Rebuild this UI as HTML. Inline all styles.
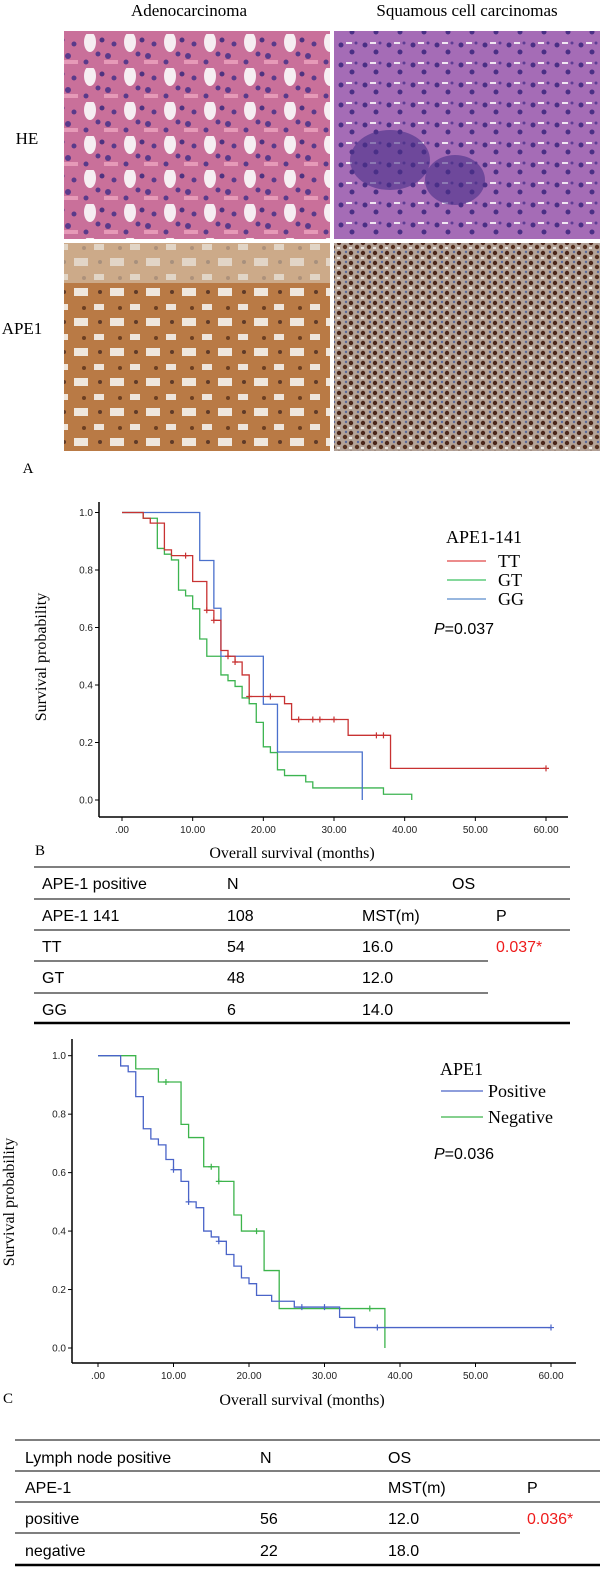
<!DOCTYPE html>
<html><head><meta charset="utf-8">
<style>
html,body{margin:0;padding:0;background:#fff;}
body{width:600px;height:1585px;position:relative;overflow:hidden;}
svg{position:absolute;left:0;top:0;}
.serif{font-family:"Liberation Serif",serif;}
.sans{font-family:"Liberation Sans",sans-serif;}
</style></head>
<body>
<svg id="fig" width="600" height="1585" viewBox="0 0 600 1585" xmlns="http://www.w3.org/2000/svg">
<defs>
<pattern id="pHE1" width="40" height="34" patternUnits="userSpaceOnUse">
<rect width="40" height="34" fill="#c9709a"/>
<ellipse cx="10" cy="8" rx="6" ry="10" fill="#f6eef2"/>
<circle cx="28" cy="22" r="3" fill="#5a3a8a"/><circle cx="22" cy="6" r="2.5" fill="#4e3280"/>
<circle cx="34" cy="10" r="2.5" fill="#5a3a8a"/><circle cx="6" cy="28" r="2.5" fill="#5a3a8a"/>
<circle cx="18" cy="20" r="2.5" fill="#5a3a8a"/>
<rect x="24" y="26" width="14" height="4" fill="#e69ab8"/>
</pattern>
<pattern id="pHE2" width="24" height="20" patternUnits="userSpaceOnUse">
<rect width="24" height="20" fill="#a56cb6"/>
<circle cx="5" cy="5" r="2.5" fill="#4a2f85"/><circle cx="16" cy="12" r="2.5" fill="#4a2f85"/>
<rect x="10" y="2" width="6" height="2" fill="#f0e6f2"/><circle cx="20" cy="3" r="1.5" fill="#5d3c94"/>
</pattern>
<pattern id="pAPE1" width="36" height="30" patternUnits="userSpaceOnUse">
<rect width="36" height="30" fill="#b97a45"/>
<rect x="2" y="18" width="14" height="8" fill="#efe7de"/><rect x="22" y="4" width="10" height="6" fill="#eee5dc"/>
<circle cx="12" cy="8" r="2" fill="#6b3e20"/><circle cx="28" cy="22" r="2" fill="#5e3a28"/>
</pattern>
<pattern id="pAPE2" width="12" height="10" patternUnits="userSpaceOnUse">
<rect width="12" height="10" fill="#b4a296"/>
<circle cx="3" cy="3" r="2.2" fill="#4a261a"/><circle cx="9" cy="7" r="2.2" fill="#55301f"/>
<circle cx="10" cy="2" r="1.2" fill="#5a6898"/><rect x="1" y="7" width="3" height="2" fill="#e8e4e0"/>
</pattern>
</defs>

<!-- Panel A -->
<text class="serif" x="189" y="16" font-size="17" text-anchor="middle">Adenocarcinoma</text>
<text class="serif" x="467" y="16" font-size="17" text-anchor="middle">Squamous cell carcinomas</text>
<rect x="64" y="31" width="266" height="208" fill="url(#pHE1)"/>
<rect x="334" y="31" width="266" height="208" fill="url(#pHE2)"/>
<ellipse cx="390" cy="160" rx="40" ry="30" fill="#4a3088" opacity="0.6"/>
<ellipse cx="455" cy="180" rx="30" ry="25" fill="#4a3088" opacity="0.6"/>
<rect x="64" y="243" width="266" height="208" fill="url(#pAPE1)"/>
<rect x="64" y="243" width="266" height="40" fill="#d8c9b8" opacity="0.6"/>
<rect x="334" y="243" width="266" height="208" fill="url(#pAPE2)"/>
<text class="serif" x="27" y="144" font-size="17" text-anchor="middle">HE</text>
<text class="serif" x="22" y="334" font-size="17" text-anchor="middle">APE1</text>
<text class="serif" x="28" y="473" font-size="15" text-anchor="middle">A</text>

<!-- Chart B -->
<g id="chartB">
<line x1="99" y1="502" x2="99" y2="817" stroke="#000" stroke-width="1.5"/>
<line x1="99" y1="817" x2="568" y2="817" stroke="#000" stroke-width="1.5"/>
<g id="ticksB"></g>
<g id="linesB"></g>
<text class="serif" transform="translate(46,657) rotate(-90)" font-size="16" text-anchor="middle">Survival probability</text>
<text class="serif" x="292" y="858" font-size="16" text-anchor="middle">Overall survival (months)</text>
<text class="serif" x="446" y="543" font-size="18">APE1-141</text>
<line x1="447" y1="561" x2="486" y2="561" stroke="#e04848" stroke-width="1.2"/>
<text class="serif" x="498" y="567" font-size="18">TT</text>
<line x1="447" y1="580" x2="486" y2="580" stroke="#3cc060" stroke-width="1.2"/>
<text class="serif" x="498" y="586" font-size="18">GT</text>
<line x1="447" y1="599" x2="486" y2="599" stroke="#5a8ccc" stroke-width="1.2"/>
<text class="serif" x="498" y="605" font-size="18">GG</text>
<text class="sans" x="434" y="634" font-size="16"><tspan font-style="italic">P</tspan>=0.037</text>
</g>
<text class="serif" x="40" y="855" font-size="15" text-anchor="middle">B</text>

<!-- Table B -->
<g class="sans" font-size="16">
<line x1="34" y1="867" x2="570" y2="867" stroke="#333" stroke-width="1.2"/>
<line x1="34" y1="899" x2="570" y2="899" stroke="#333" stroke-width="1.2"/>
<line x1="34" y1="930" x2="570" y2="930" stroke="#333" stroke-width="1.2"/>
<line x1="34" y1="961" x2="488" y2="961" stroke="#333" stroke-width="1.2"/>
<line x1="34" y1="993" x2="488" y2="993" stroke="#333" stroke-width="1.2"/>
<line x1="34" y1="1023" x2="570" y2="1023" stroke="#000" stroke-width="2.5"/>
<text x="42" y="889">APE-1 positive</text><text x="227" y="889">N</text><text x="452" y="889">OS</text>
<text x="42" y="921">APE-1 141</text><text x="227" y="921">108</text><text x="362" y="921">MST(m)</text><text x="496" y="921">P</text>
<text x="42" y="952">TT</text><text x="227" y="952">54</text><text x="362" y="952">16.0</text><text x="496" y="952" fill="#ee1c1c">0.037*</text>
<text x="42" y="983">GT</text><text x="227" y="983">48</text><text x="362" y="983">12.0</text>
<text x="42" y="1015">GG</text><text x="227" y="1015">6</text><text x="362" y="1015">14.0</text>
</g>

<!-- Chart C -->
<g id="chartC">
<line x1="72" y1="1039" x2="72" y2="1363" stroke="#000" stroke-width="1.5"/>
<line x1="72" y1="1363" x2="576" y2="1363" stroke="#000" stroke-width="1.5"/>
<g id="ticksC"></g>
<g id="linesC"></g>
<text class="serif" transform="translate(14,1202) rotate(-90)" font-size="16" text-anchor="middle">Survival probability</text>
<text class="serif" x="302" y="1405" font-size="16" text-anchor="middle">Overall survival (months)</text>
<text class="serif" x="440" y="1075" font-size="18">APE1</text>
<line x1="441" y1="1091" x2="483" y2="1091" stroke="#4a64c8" stroke-width="1.2"/>
<text class="serif" x="488" y="1097" font-size="18">Positive</text>
<line x1="441" y1="1117" x2="483" y2="1117" stroke="#3cb44b" stroke-width="1.2"/>
<text class="serif" x="488" y="1123" font-size="18">Negative</text>
<text class="sans" x="434" y="1159" font-size="16"><tspan font-style="italic">P</tspan>=0.036</text>
</g>
<text class="serif" x="8" y="1403" font-size="15" text-anchor="middle">C</text>

<!-- Table C -->
<g class="sans" font-size="16">
<line x1="15" y1="1440" x2="600" y2="1440" stroke="#333" stroke-width="1.2"/>
<line x1="15" y1="1471" x2="600" y2="1471" stroke="#333" stroke-width="1.2"/>
<line x1="15" y1="1502" x2="600" y2="1502" stroke="#333" stroke-width="1.2"/>
<line x1="15" y1="1533" x2="520" y2="1533" stroke="#333" stroke-width="1.2"/>
<line x1="15" y1="1565" x2="600" y2="1565" stroke="#000" stroke-width="2.5"/>
<text x="25" y="1463">Lymph node positive</text><text x="260" y="1463">N</text><text x="388" y="1463">OS</text>
<text x="25" y="1493">APE-1</text><text x="388" y="1493">MST(m)</text><text x="527" y="1493">P</text>
<text x="25" y="1524">positive</text><text x="260" y="1524">56</text><text x="388" y="1524">12.0</text><text x="527" y="1524" fill="#ee1c1c">0.036*</text>
<text x="25" y="1556">negative</text><text x="260" y="1556">22</text><text x="388" y="1556">18.0</text>
</g>
</svg>

<script>
// ---- Chart B data ----
const xTicks = [0, 10, 20, 30, 40, 50, 60];
const xTickLabels = [".00", "10.00", "20.00", "30.00", "40.00", "50.00", "60.00"];
const yTicks = [0, 0.2, 0.4, 0.6, 0.8, 1.0];
const yTickLabels = ["0.0", "0.2", "0.4", "0.6", "0.8", "1.0"];

const ttTimes = [0, 3, 4, 6, 7, 10, 12, 13, 14, 15, 16, 17, 18, 23, 24, 32, 38, 60];
const ttSurv  = [1, 0.98, 0.963, 0.87, 0.85, 0.76, 0.66, 0.625, 0.52, 0.50, 0.48, 0.435, 0.36, 0.335, 0.28, 0.225, 0.11, 0.11];
const ttCensor = [9, 12, 13, 15, 16, 18, 21, 25, 27, 28, 30, 36, 37, 60];

const gtTimes = [0, 3, 5, 6, 7, 8, 9, 10, 11, 12, 14, 15, 16, 17, 18, 19, 20, 21, 22, 23, 26, 27, 37, 41];
const gtSurv  = [1, 0.98, 0.875, 0.855, 0.835, 0.73, 0.71, 0.665, 0.56, 0.50, 0.435, 0.415, 0.395, 0.355, 0.335, 0.27, 0.185, 0.165, 0.105, 0.085, 0.063, 0.042, 0.02, 0.0];
const gtCensor = [];

const ggTimes = [0, 11, 13, 14, 20, 22, 34];
const ggSurv  = [1, 0.833, 0.667, 0.5, 0.333, 0.167, 0.0];
const ggCensor = [];

// ---- Chart C data ----
const posTimes = [0, 3, 4, 5, 6, 7, 8, 9, 10, 11, 12, 13, 14, 15, 16, 17, 18, 19, 20, 21, 23, 26, 32, 34, 60];
const posSurv  = [1, 0.965, 0.945, 0.86, 0.75, 0.715, 0.695, 0.645, 0.61, 0.57, 0.50, 0.48, 0.40, 0.38, 0.365, 0.32, 0.28, 0.24, 0.22, 0.18, 0.16, 0.14, 0.105, 0.07, 0.07];
const posCensor = [10, 12, 16, 27, 30, 37, 60];

const negTimes = [0, 5, 8, 11, 12, 14, 16, 18, 19, 22, 24, 38];
const negSurv  = [1, 0.955, 0.91, 0.765, 0.72, 0.62, 0.57, 0.455, 0.40, 0.265, 0.135, 0.0];
const negCensor = [9, 15, 16, 21, 36];

const NS = "http://www.w3.org/2000/svg";
function mk(tag, attrs, parent) {
  const el = document.createElementNS(NS, tag);
  for (const k in attrs) el.setAttribute(k, attrs[k]);
  parent.appendChild(el);
  return el;
}
function survAt(times, surv, t) {
  let s = surv[0];
  for (let i = 0; i < times.length; i++) if (times[i] <= t) s = surv[i];
  return s;
}
function drawAxes(g, xs, ys, axisX, axisY) {
  xTicks.forEach((v, i) => {
    const t = mk("line", {x1: xs(v), x2: xs(v), y1: axisY, y2: axisY + 4, stroke: "#000", "stroke-width": 1}, g);
    
    
    const l = mk("text", {x: xs(v), y: axisY + 16, "font-size": 10, "text-anchor": "middle", "font-family": "Liberation Sans, sans-serif", fill: "#222"}, g);
    l.textContent = xTickLabels[i];
    
    
  });
  yTicks.forEach((v, i) => {
    const t = mk("line", {x1: axisX - 4, x2: axisX, y1: ys(v), y2: ys(v), stroke: "#000", "stroke-width": 1}, g);
    
    
    const l = mk("text", {x: axisX - 6, y: ys(v) + 3.5, "font-size": 10, "text-anchor": "end", "font-family": "Liberation Sans, sans-serif", fill: "#222"}, g);
    l.textContent = yTickLabels[i];
    
    
  });
}
function drawKM(g, xs, ys, times, surv, censor, color, name) {
  let d = "M" + xs(times[0]) + "," + ys(surv[0]);
  for (let i = 1; i < times.length; i++) {
    d += " H" + xs(times[i]) + " V" + ys(surv[i]);
  }
  const p = mk("path", {d: d, fill: "none", stroke: color, "stroke-width": 1.3}, g);
  
  
  censor.forEach(t => {
    const y = ys(survAt(times, surv, t));
    const c = mk("path", {d: "M" + (xs(t) - 3) + "," + y + " H" + (xs(t) + 3) + " M" + xs(t) + "," + (y - 3) + " V" + (y + 3), stroke: color, "stroke-width": 1.2}, g);
    
    
  });
}
const xsB = v => 122 + v * (546 - 122) / 60;
const ysB = v => 800 - v * (800 - 512.5);
drawAxes(document.getElementById("ticksB"), xsB, ysB, 99, 817);
const gB = document.getElementById("linesB");
drawKM(gB, xsB, ysB, gtTimes, gtSurv, gtCensor, "#3cb450", "gt");
drawKM(gB, xsB, ysB, ggTimes, ggSurv, ggCensor, "#4a70cc", "gg");
drawKM(gB, xsB, ysB, ttTimes, ttSurv, ttCensor, "#c83232", "tt");
const xsC = v => 98 + v * (551 - 98) / 60;
const ysC = v => 1348 - v * (1348 - 1055.7);
drawAxes(document.getElementById("ticksC"), xsC, ysC, 72, 1363);
const gC = document.getElementById("linesC");
drawKM(gC, xsC, ysC, negTimes, negSurv, negCensor, "#3cb44b", "negative");
drawKM(gC, xsC, ysC, posTimes, posSurv, posCensor, "#4a64c8", "positive");
</script>
</body></html>
